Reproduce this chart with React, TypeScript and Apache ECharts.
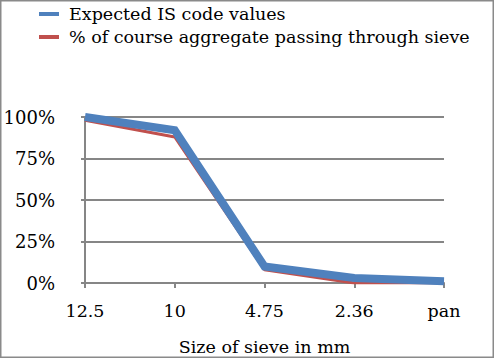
import React, { useEffect, useRef } from "react";
import * as echarts from "echarts";

const categories = ["12.5", "10", "4.75", "2.36", "pan"];
const expectedIS = [100, 92, 10, 3, 1];
const coursePassing = [98, 88, 8, 0, 0];
const seriesNames = ["Expected IS code values", "% of course aggregate passing through sieve"];

const FONT = "DejaVu Serif";

export default function App() {
  const ref = useRef<HTMLDivElement>(null);
  useEffect(() => {
    document.body.style.margin = "0";
    const chart = echarts.init(ref.current!, null, { renderer: "svg" });
    chart.setOption({
      animation: false,
      backgroundColor: "#ffffff",
      textStyle: { fontFamily: FONT },
      legend: {
        orient: "vertical",
        left: 34,
        top: 0,
        itemWidth: 20,
        itemHeight: 4,
        itemGap: 5,
        icon: "rect",
        textStyle: { fontFamily: FONT, fontSize: 17.5, color: "#000", padding: [0, 0, 0, 5] },
        data: [
          { name: seriesNames[0], itemStyle: { color: "#4F81BD" } },
          { name: seriesNames[1], itemStyle: { color: "#C0504D" } },
        ],
      },
      grid: { left: 85, right: 50, top: 117, bottom: 75 },
      xAxis: {
        type: "category",
        data: categories,
        boundaryGap: false,
        axisLine: { lineStyle: { color: "#868686", width: 2 } },
        axisTick: { show: true, length: 5, lineStyle: { color: "#868686", width: 2 } },
        axisLabel: { color: "#000", fontFamily: FONT, fontSize: 17.5, margin: 19 },
        name: "Size of sieve in mm",
        nameLocation: "middle",
        nameGap: 55,
        nameTextStyle: { color: "#000", fontFamily: FONT, fontSize: 17.5 },
      },
      yAxis: {
        type: "value",
        min: 0,
        max: 100,
        interval: 25,
        axisLine: { show: true, lineStyle: { color: "#868686", width: 2 } },
        axisTick: { show: true, length: 4, lineStyle: { color: "#868686", width: 2 } },
        splitLine: { lineStyle: { color: "#868686", width: 2 } },
        axisLabel: { color: "#000", fontFamily: FONT, fontSize: 18, margin: 30, formatter: "{value}%" },
      },
      series: [
        {
          name: seriesNames[0],
          type: "line",
          data: expectedIS,
          z: 3,
          symbol: "none",
          lineStyle: { color: "#4F81BD", width: 8, join: "miter" },
          itemStyle: { color: "#4F81BD" },
        },
        {
          name: seriesNames[1],
          type: "line",
          data: coursePassing,
          z: 2,
          symbol: "none",
          lineStyle: { color: "#C0504D", width: 3 },
          itemStyle: { color: "#C0504D" },
        },
      ],
      graphic: [
        {
          type: "rect",
          shape: { x: 0.75, y: 0.75, width: 492.5, height: 356.5 },
          style: { fill: "none", stroke: "#8a8a8a", lineWidth: 1.5 },
          silent: true,
        },
      ],
    });
    return () => chart.dispose();
  }, []);
  return <div ref={ref} style={{ width: 494, height: 358 }} />;
}
